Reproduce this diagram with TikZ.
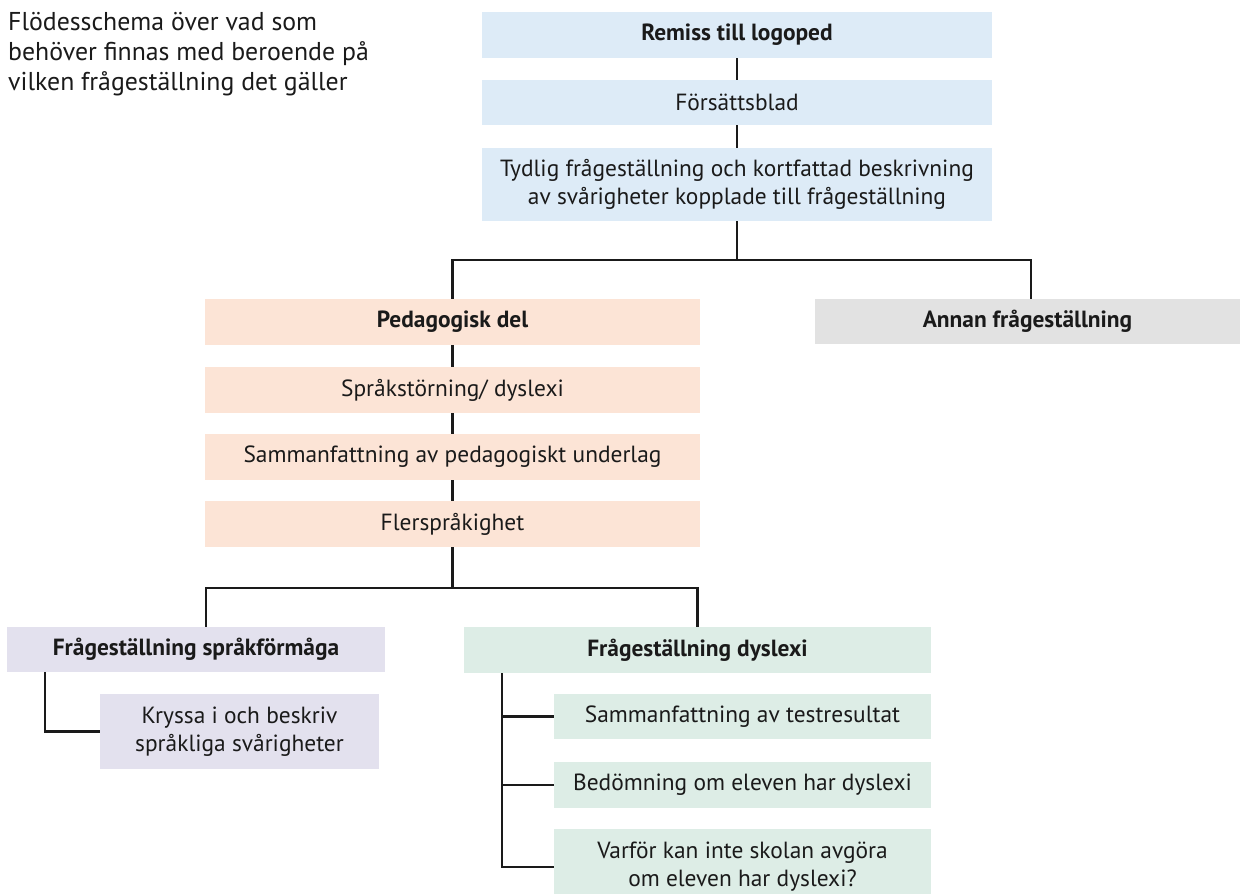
\documentclass[tikz,border=0pt]{standalone}
\usepackage{fontspec}
\setmainfont{PT Sans}
\definecolor{cblue}{HTML}{DDEBF7}
\definecolor{cpeach}{HTML}{FCE4D6}
\definecolor{cgray}{HTML}{E2E2E2}
\definecolor{clav}{HTML}{E3E1EE}
\definecolor{cmint}{HTML}{DDEDE6}
\definecolor{ctext}{HTML}{1A1A1A}
\begin{document}
\begin{tikzpicture}[x=1pt,y=-1pt,
  box/.style={rectangle, inner sep=0pt, align=center, text=ctext,
    font=\fontsize{23.4}{28}\selectfont},
  bbox/.style={box, font=\fontsize{23.4}{28}\selectfont\bfseries},
  conn/.style={line width=2.9pt, draw=ctext, line join=miter}]
\useasboundingbox (0,0) rectangle (1240,894);
\node[anchor=north west, align=left, text=ctext, inner sep=0pt,
  font=\fontsize{25.8}{30}\selectfont] (title) at (8,12.5)
  {Flödesschema över vad som\\behöver finnas med beroende på\\vilken frågeställning det gäller};
% blue column
\node[bbox, fill=cblue, minimum width=510, minimum height=46] (r1) at (737,35) {Remiss till logoped};
\node[box, fill=cblue, minimum width=510, minimum height=45] (r2) at (737,102.5) {Försättsblad};
\node[box, fill=cblue, minimum width=510, minimum height=73] (r3) at (737,184.5)
  {Tydlig frågeställning och kortfattad beskrivning\\av svårigheter kopplade till frågeställning};
% level 2
\node[bbox, fill=cpeach, minimum width=495, minimum height=46] (ped) at (452.5,322) {Pedagogisk del};
\node[box, fill=cpeach, minimum width=495, minimum height=46] (spd) at (452.5,390) {Språkstörning/ dyslexi};
\node[box, fill=cpeach, minimum width=495, minimum height=46] (sam) at (452.5,457) {Sammanfattning av pedagogiskt underlag};
\node[box, fill=cpeach, minimum width=495, minimum height=46] (fle) at (452.5,524) {Flerspråkighet};
\node[bbox, fill=cgray, minimum width=425, minimum height=45] (ann) at (1027.5,321.5) {Annan frågeställning};
% level 3
\node[bbox, fill=clav, minimum width=378, minimum height=45] (spf) at (196,649.5) {Frågeställning språkförmåga};
\node[box, fill=clav, minimum width=279, minimum height=75] (kry) at (239.5,731.5) {Kryssa i och beskriv\\språkliga svårigheter};
\node[bbox, fill=cmint, minimum width=467, minimum height=46] (dys) at (697.5,650) {Frågeställning dyslexi};
\node[box, fill=cmint, minimum width=377, minimum height=45] (s1) at (742.5,716.5) {Sammanfattning av testresultat};
\node[box, fill=cmint, minimum width=377, minimum height=46] (s2) at (742.5,785) {Bedömning om eleven har dyslexi};
\node[box, fill=cmint, minimum width=377, minimum height=76] (s3) at (742.5,867) {Varför kan inte skolan avgöra\\om eleven har dyslexi?};
% connectors
\draw[conn] (r1.south) -- (r2.north);
\draw[conn] (r2.south) -- (r3.north);
\coordinate (br1) at (737,260);
\draw[conn] (r3.south) -- (br1);
\draw[conn] (ped.north) |- (br1) -| ([xshift=3.5pt]ann.north);
\draw[conn] (ped.south) -- (spd.north);
\draw[conn] (spd.south) -- (sam.north);
\draw[conn] (sam.south) -- (fle.north);
\coordinate (br2) at (452.5,588);
\draw[conn] (fle.south) -- (br2);
\draw[conn] ([xshift=10pt]spf.north) |- (br2) -| (dys.north);
\draw[conn] ([xshift=-151pt]spf.south) |- (kry.west);
\coordinate (sp) at (502,673);
\draw[conn] (sp) |- (s3.west);
\draw[conn] (s1.west) -- (s1.west -| sp);
\draw[conn] (s2.west) -- (s2.west -| sp);
\end{tikzpicture}
\end{document}
